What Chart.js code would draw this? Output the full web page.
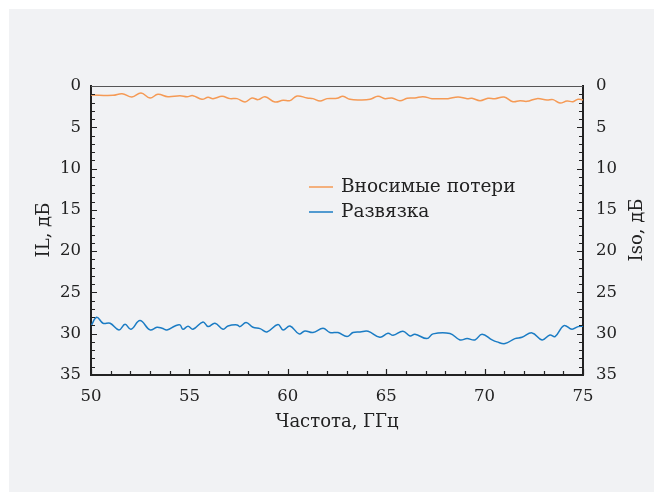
<!DOCTYPE html>
<html>
<head>
<meta charset="utf-8">
<script src="https://cdn.jsdelivr.net/npm/chart.js@4.4.1/dist/chart.umd.min.js"></script>
<style>
  html, body { margin: 0; padding: 0; background: #ffffff; }
  #panel { position: absolute; left: 9px; top: 9px; right: 0; bottom: 0; background: #f1f2f4; }
  #c { position: absolute; left: 0; top: 0; }
</style>
</head>
<body>
<div id="panel"></div>
<canvas id="c" width="654" height="492"></canvas>
<script>
// Frequency axis, GHz
const freqRange = [50, 75];
const freqTicks = [50, 55, 60, 65, 70, 75];
// Attenuation axes, dB (0 at the top)
const dbRange = [0, 35];
const dbTicks = [0, 5, 10, 15, 20, 25, 30, 35];

const seriesNames = ['Вносимые потери', 'Развязка'];
const axisTitles = { x: 'Частота, ГГц', left: 'IL, дБ', right: 'Iso, дБ' };

// Insertion loss (left axis)
const ilFreq = [50.00, 51.12, 51.58, 52.08, 52.54, 53.00, 53.40, 53.91, 54.52, 54.88, 55.18, 55.64, 55.95, 56.20, 56.66, 57.06, 57.42, 57.83, 58.18, 58.49, 58.84, 59.35, 59.76, 60.11, 60.47, 60.98, 61.28, 61.64, 61.99, 62.50, 62.80, 63.16, 63.67, 64.18, 64.58, 64.94, 65.29, 65.70, 66.06, 66.46, 66.87, 67.33, 67.73, 68.14, 68.65, 69.11, 69.36, 69.77, 70.17, 70.53, 70.99, 71.44, 71.80, 72.15, 72.66, 73.17, 73.48, 73.83, 74.19, 74.49, 74.75, 75.00];
const ilValues = [1.09, 1.13, 0.93, 1.33, 0.85, 1.45, 1.01, 1.29, 1.17, 1.29, 1.17, 1.61, 1.37, 1.53, 1.25, 1.53, 1.53, 1.94, 1.45, 1.65, 1.29, 1.94, 1.73, 1.77, 1.21, 1.45, 1.53, 1.82, 1.53, 1.49, 1.25, 1.61, 1.69, 1.61, 1.25, 1.53, 1.45, 1.78, 1.49, 1.45, 1.29, 1.53, 1.53, 1.53, 1.33, 1.53, 1.49, 1.78, 1.49, 1.53, 1.33, 1.90, 1.78, 1.86, 1.53, 1.69, 1.65, 2.06, 1.82, 1.90, 1.61, 1.69];

// Isolation (right axis)
const isoFreq = [50.00, 50.29, 50.61, 50.97, 51.42, 51.73, 52.03, 52.49, 53.00, 53.35, 53.61, 53.86, 54.27, 54.52, 54.67, 54.93, 55.18, 55.69, 55.95, 56.30, 56.71, 56.96, 57.42, 57.57, 57.88, 58.23, 58.59, 58.94, 59.50, 59.76, 60.11, 60.57, 60.87, 61.28, 61.79, 62.14, 62.55, 63.01, 63.31, 63.67, 64.08, 64.68, 65.09, 65.35, 65.85, 66.21, 66.46, 67.07, 67.38, 68.24, 68.75, 69.11, 69.51, 69.87, 70.38, 70.63, 71.04, 71.54, 71.90, 72.41, 72.92, 73.32, 73.58, 74.03, 74.44, 74.75, 75.00];
const isoValues = [29.06, 28.01, 28.73, 28.73, 29.54, 28.85, 29.46, 28.41, 29.54, 29.22, 29.34, 29.54, 29.06, 28.93, 29.46, 29.10, 29.46, 28.57, 29.14, 28.73, 29.46, 29.06, 28.93, 29.14, 28.65, 29.22, 29.38, 29.78, 28.89, 29.54, 29.06, 30.02, 29.66, 29.86, 29.34, 29.86, 29.86, 30.35, 29.86, 29.78, 29.70, 30.43, 29.94, 30.19, 29.70, 30.27, 30.06, 30.59, 30.02, 29.98, 30.75, 30.59, 30.75, 30.06, 30.75, 30.99, 31.19, 30.59, 30.43, 29.90, 30.75, 30.15, 30.35, 29.02, 29.46, 29.14, 29.10];

const ORANGE = '#f59a55';
const BLUE = '#1b7cc4';
const INK = '#222222';
const FONT = "'DejaVu Serif', serif";

const toPoints = (xs, ys) => xs.map((x, i) => ({ x, y: ys[i] }));

// Inward tick marks, frame top edge, rotated axis titles and in-plot legend
const decorations = {
  id: 'decorations',
  afterDraw(chart) {
    const { ctx, chartArea: a, scales } = chart;
    const sx = scales.x, sl = scales.y, sr = scales.y2;
    ctx.save();
    ctx.strokeStyle = INK;
    ctx.lineWidth = 1.2;
    ctx.beginPath();
    for (let v = freqRange[0]; v <= freqRange[1]; v++) {
      const px = Math.round(sx.getPixelForValue(v)) + 0.5;
      const len = v % 5 === 0 ? 6 : 4;
      ctx.moveTo(px, a.bottom); ctx.lineTo(px, a.bottom - len);
    }
    for (let v = dbRange[0]; v <= dbRange[1]; v++) {
      const len = v % 5 === 0 ? 6 : 4;
      const pl = Math.round(sl.getPixelForValue(v)) + 0.5;
      ctx.moveTo(a.left, pl); ctx.lineTo(a.left + len, pl);
      const pr = Math.round(sr.getPixelForValue(v)) + 0.5;
      ctx.moveTo(a.right, pr); ctx.lineTo(a.right - len, pr);
    }
    ctx.stroke();

    // top edge of the frame
    ctx.strokeStyle = '#555555';
    ctx.lineWidth = 1.2;
    ctx.beginPath();
    ctx.moveTo(a.left, Math.round(a.top) + 0.5);
    ctx.lineTo(a.right, Math.round(a.top) + 0.5);
    ctx.stroke();

    // axis titles
    ctx.fillStyle = INK;
    ctx.font = '18px ' + FONT;
    ctx.textAlign = 'center';
    ctx.textBaseline = 'middle';
    ctx.fillText(axisTitles.x, (a.left + a.right) / 2, 422);
    const rotated = (text, x, y) => {
      ctx.save();
      ctx.translate(x, y);
      ctx.rotate(-Math.PI / 2);
      ctx.fillText(text, 0, 0);
      ctx.restore();
    };
    rotated(axisTitles.left, 44, 230);
    rotated(axisTitles.right, 637, 230);

    // legend
    const items = chart.data.datasets.map(d => ({ label: d.label, color: d.borderColor }));
    ctx.textAlign = 'left';
    ctx.font = '18.5px ' + FONT;
    items.forEach((it, i) => {
      const y = 187 + i * 25;
      ctx.strokeStyle = it.color;
      ctx.lineWidth = 1.5;
      ctx.beginPath();
      ctx.moveTo(309, y); ctx.lineTo(333, y);
      ctx.stroke();
      ctx.fillStyle = INK;
      ctx.fillText(it.label, 341, y);
    });
    ctx.restore();
  }
};

const yScale = (position, width, pad) => ({
  type: 'linear',
  position,
  reverse: true,
  min: dbRange[0],
  max: dbRange[1],
  afterBuildTicks: s => { s.ticks = dbTicks.map(v => ({ value: v })); },
  afterFit: s => { s.width = width; },
  grid: { display: false, drawTicks: false },
  border: { display: true, color: INK, width: 2 },
  ticks: { color: INK, font: { family: FONT, size: 16.5 }, padding: pad }
});

new Chart(document.getElementById('c'), {
  type: 'line',
  data: {
    datasets: [
      { label: seriesNames[0], data: toPoints(ilFreq, ilValues), yAxisID: 'y',
        borderColor: ORANGE, borderWidth: 1.5, pointRadius: 0, tension: 0.4, fill: false },
      { label: seriesNames[1], data: toPoints(isoFreq, isoValues), yAxisID: 'y2',
        borderColor: BLUE, borderWidth: 1.5, pointRadius: 0, tension: 0.4, fill: false }
    ]
  },
  options: {
    responsive: false,
    animation: false,
    layout: { padding: { top: 86, left: 0, right: 0, bottom: 0 } },
    plugins: { legend: { display: false }, tooltip: { enabled: false } },
    scales: {
      x: {
        type: 'linear',
        position: 'bottom',
        min: freqRange[0],
        max: freqRange[1],
        afterBuildTicks: s => { s.ticks = freqTicks.map(v => ({ value: v })); },
        afterFit: s => { s.height = 117; },
        grid: { display: false, drawTicks: false },
        border: { display: true, color: INK, width: 2 },
        ticks: { color: INK, font: { family: FONT, size: 16.5 }, padding: 12, maxRotation: 0 }
      },
      y: yScale('left', 91, 10),
      y2: yScale('right', 71, 13)
    }
  },
  plugins: [decorations]
});
</script>
</body>
</html>
